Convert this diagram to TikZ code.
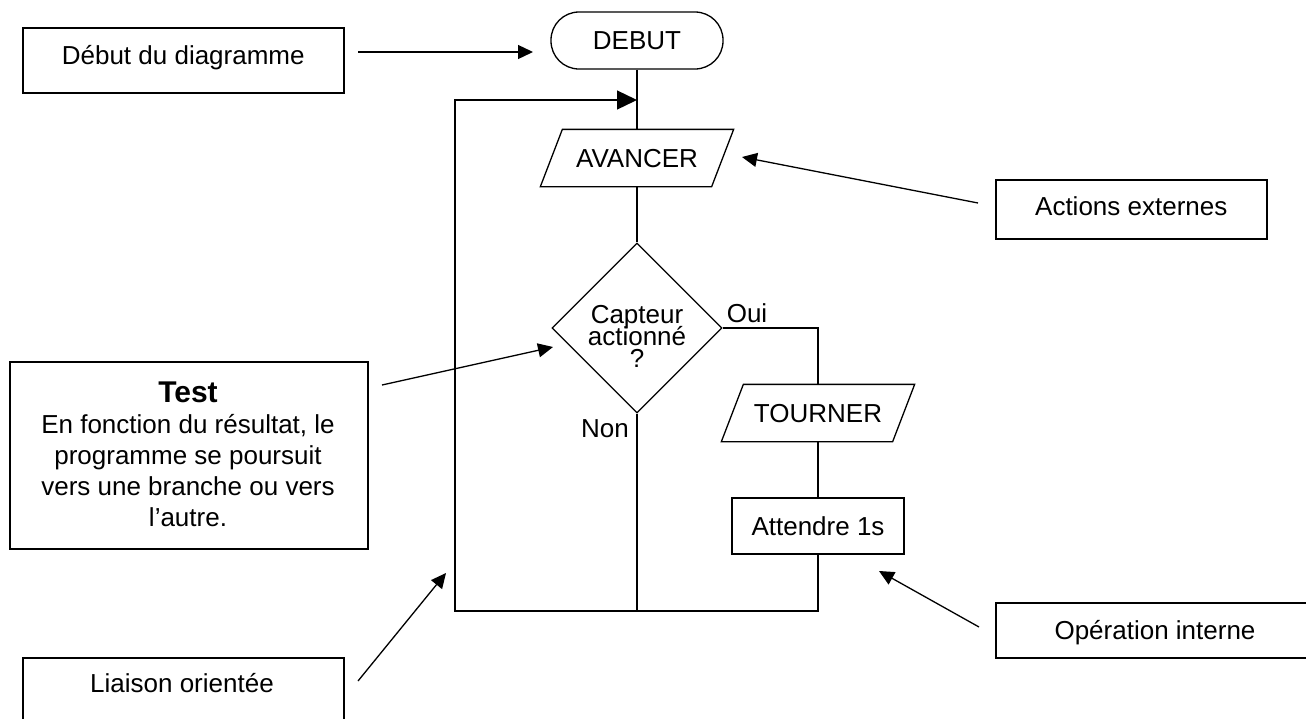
\documentclass[tikz,border=0pt]{standalone}
\usepackage{fontspec}
\setmainfont{Liberation Sans}
\usetikzlibrary{arrows.meta,shapes.geometric}
\begin{document}
\lineskiplimit=-100pt
\begin{tikzpicture}[x=1pt,y=-1pt,line width=1.3pt,
  f/.style={font=\fontsize{26}{31}\selectfont},
  tx/.style={f,inner sep=0pt,text height=18.6pt,text depth=0pt},
  box/.style={draw,line width=1.5pt,inner sep=0pt,anchor=north west},
  shp/.style={f,inner sep=0pt,text height=18.6pt,text depth=0pt},
  arr/.style={-{Triangle[length=15pt,width=14pt]},line width=1.3pt},
  bigarr/.style={-{Triangle[length=20pt,width=19pt]},line width=1.3pt},
  ln/.style={line width=1.3pt}]
\fill[white] (0,0) rectangle (1306,718);
\useasboundingbox (0,0) rectangle (1306,718);

% annotation boxes
\node[box,minimum width=321pt,minimum height=65pt] (bdeb) at (22,27) {};
\node[tx] (tdeb) at ([yshift=-28pt]bdeb.north) {Début du diagramme};
\node[box,minimum width=271pt,minimum height=59pt] (bact) at (995,179) {};
\node[tx] (tact) at ([yshift=-27pt]bact.north) {Actions externes};
\node[box,minimum width=358pt,minimum height=187pt] (btest) at (9,361) {};
\node[f,align=center,anchor=north,inner sep=0pt] (ttest) at (188,381)
  {{\bfseries\fontsize{30}{31}\selectfont Test}\\En fonction du résultat, le\\programme se poursuit\\vers une branche ou vers\\l’autre.};
\node[box,minimum width=330pt,minimum height=55pt] (bop) at (995,602) {};
\node[tx] (top) at (1155,630) {Opération interne};
\node[box,minimum width=321pt,minimum height=80pt] (bli) at (22,657) {};
\node[tx] (tli) at (182,683) {Liaison orientée};

% flowchart
\node[draw,shp,rounded corners=28pt,minimum width=172pt,minimum height=57pt] (debut) at (637,40.5) {DEBUT};
\node[shp,minimum width=170pt,minimum height=56pt] (av) at (637,158) {AVANCER};
\draw[ln] ([xshift=-11pt]av.south west) -- ([xshift=-11pt]av.south east) -- ([xshift=11pt]av.north east) -- ([xshift=11pt]av.north west) -- cycle;
\node[draw,diamond,minimum width=170pt,minimum height=170pt,inner sep=0pt] (dia) at (637,328) {};
\node[align=center,anchor=north,inner sep=0pt,font=\fontsize{26}{22}\selectfont] (dtx) at (637,305) {Capteur\\actionné\\?};
\node[tx] (oui) at (747,313) {Oui};
\node[tx] (non) at (605,428) {Non};
\node[shp,minimum width=170pt,minimum height=56pt] (tn) at (818,413) {TOURNER};
\draw[ln] ([xshift=-11pt]tn.south west) -- ([xshift=-11pt]tn.south east) -- ([xshift=11pt]tn.north east) -- ([xshift=11pt]tn.north west) -- cycle;
\node[draw,shp,line width=1.5pt,minimum width=172pt,minimum height=56pt] (att) at (818,526) {Attendre 1s};

\coordinate (lb) at (455,611);
\coordinate (jt) at (637,100);

\draw[ln] (debut.south) -- (av.north);
\draw[ln] (av.south) -- (dia.north);
\draw[ln] (dia.east) -| (tn.north);
\draw[ln] (tn.south) -- (att.north);
\draw[ln] (dia.south) -- (dia.south |- lb);
\draw[bigarr] (att.south) |- (lb) |- (jt);

% annotation arrows
\coordinate (a1s) at (358,52);  \coordinate (a1e) at (533,52);
\coordinate (a2s) at (978,203); \coordinate (a2e) at (742,157);
\coordinate (a3s) at (382,385); \coordinate (a3e) at (553,347);
\coordinate (a4s) at (979,627); \coordinate (a4e) at (879,571);
\coordinate (a5s) at (358,681); \coordinate (a5e) at (446,573);
\draw[arr] (a1s) -- (a1e);
\draw[arr] (a2s) -- (a2e);
\draw[arr] (a3s) -- (a3e);
\draw[arr] (a4s) -- (a4e);
\draw[arr] (a5s) -- (a5e);
\end{tikzpicture}
\end{document}
